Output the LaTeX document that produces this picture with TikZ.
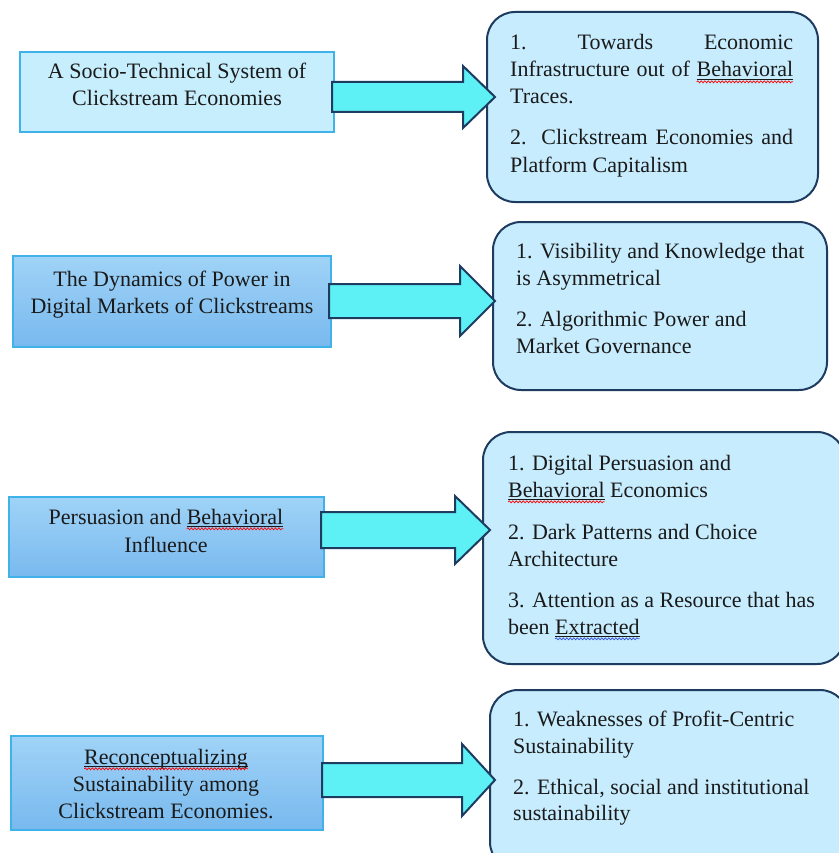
\documentclass[tikz,border=0pt]{standalone}
\usepackage{fontspec}
\setmainfont{Liberation Serif}
\usetikzlibrary{decorations.pathmorphing}
\newlength\spw
\newcommand\spellmark[2]{\settowidth\spw{#2}\rlap{#2}\tikz[baseline=0pt,x=1pt,y=1pt]{%
  \useasboundingbox (0,0) rectangle (\spw,0);
  \draw[txt, line width=0.6pt] (0,-2.2) -- (\spw,-2.2);
  \draw[#1, line width=0.7pt, decorate, decoration={snake, amplitude=1pt, segment length=3.5pt}] (0,-4.8) -- (\spw,-4.8);}}
\definecolor{lboxfill}{HTML}{C6EEFC}
\definecolor{lboxdraw}{HTML}{3FB3E9}
\definecolor{gtop}{HTML}{A0D3F7}
\definecolor{gbot}{HTML}{78B9EE}
\definecolor{arrfill}{HTML}{5DF1F6}
\definecolor{navy}{HTML}{1E3C60}
\definecolor{rboxfill}{HTML}{C7ECFD}
\definecolor{txt}{HTML}{1A1A1A}
\definecolor{spellblue}{HTML}{3050E0}
\newcommand\blockarrow[6]{%
  \draw[barrow] (#1,#4-#5) -- (#2,#4-#5) -- (#2,#4-#6) -- (#3,#4) -- (#2,#4+#6) -- (#2,#4+#5) -- (#1,#4+#5) -- cycle;}
\begin{document}
\begin{tikzpicture}[x=1pt,y=-1pt,
  lbox/.style={rectangle, inner sep=0pt, outer sep=0pt, line width=1.1pt, draw=lboxdraw},
  lboxplain/.style={lbox, fill=lboxfill},
  lboxgrad/.style={lbox, top color=gtop, bottom color=gbot},
  rbox/.style={rectangle, rounded corners=28pt, inner sep=0pt, outer sep=0pt, line width=2pt, draw=navy, fill=rboxfill},
  barrow/.style={line width=2pt, draw=navy, fill=arrfill, line join=miter},
  ltext/.style={inner sep=0pt, anchor=base, text=txt, font=\fontsize{22}{27}\selectfont},
  rtext/.style={inner sep=0pt, anchor=base west, text=txt, font=\fontsize{22}{27}\selectfont}]
\useasboundingbox[fill=white] (0,0) rectangle (838,853);

% left boxes
\node[lboxplain, minimum width=314pt, minimum height=80pt] (l1) at (177,92) {};
\node[lboxgrad, minimum width=318pt, minimum height=91pt] (l2) at (172,301.5) {};
\node[lboxgrad, minimum width=315pt, minimum height=80pt] (l3) at (166.5,537) {};
\node[lboxgrad, minimum width=312pt, minimum height=94pt] (l4) at (167,783) {};

\node[ltext] (l1a) at (177,79) {A Socio-Technical System of};
\node[ltext] (l1b) at (177,106) {Clickstream Economies};
\node[ltext] (l2a) at (172,286) {The Dynamics of Power in};
\node[ltext] (l2b) at (172,313) {Digital Markets of Clickstreams};
\node[ltext] (l3a) at (166,524) {Persuasion and \spellmark{red}{Behavioral}};
\node[ltext] (l3b) at (166,552) {Influence};
\node[ltext] (l4a) at (166,764) {\spellmark{red}{Reconceptualizing}};
\node[ltext] (l4b) at (166,791) {Sustainability among};
\node[ltext] (l4c) at (166,818) {Clickstream Economies.};

% right boxes
\node[rbox, minimum width=331pt, minimum height=190pt] (r1) at (652.5,107) {};
\node[rbox, minimum width=334pt, minimum height=168pt] (r2) at (660,306) {};
\node[rbox, minimum width=362pt, minimum height=232pt] (r3) at (664,548) {};
\node[rbox, minimum width=358pt, minimum height=180pt] (r4) at (669,780) {};

\node[rtext] (r1a) at (510,50) {\makebox[283pt][s]{1.\hfill Towards\hfill Economic}};
\node[rtext] (r1b) at (510,77) {\makebox[283pt][s]{Infrastructure out of \spellmark{red}{Behavioral}}};
\node[rtext] (r1c) at (510,104) {Traces.};
\node[rtext] (r1d) at (510,145) {\makebox[283pt][s]{2. Clickstream Economies and}};
\node[rtext] (r1e) at (510,172) {Platform Capitalism};

\node[rtext] (r2a) at (516,258) {1. Visibility and Knowledge that};
\node[rtext] (r2b) at (516,285) {is Asymmetrical};
\node[rtext] (r2c) at (516,326) {2. Algorithmic Power and};
\node[rtext] (r2d) at (516,353) {Market Governance};

\node[rtext] (r3a) at (508,470) {1. Digital Persuasion and};
\node[rtext] (r3b) at (508,497) {\spellmark{red}{Behavioral} Economics};
\node[rtext] (r3c) at (508,539) {2. Dark Patterns and Choice};
\node[rtext] (r3d) at (508,566) {Architecture};
\node[rtext] (r3e) at (508,607) {3. Attention as a Resource that has};
\node[rtext] (r3f) at (508,634) {been \spellmark{spellblue}{Extracted}};

\node[rtext] (r4a) at (513,726) {1. Weaknesses of Profit-Centric};
\node[rtext] (r4b) at (513,753) {Sustainability};
\node[rtext] (r4c) at (513,794) {2. Ethical, social and institutional};
\node[rtext] (r4d) at (513,820) {sustainability};

% block arrows
\blockarrow{332}{463}{495}{97}{15}{31}
\blockarrow{329}{460}{495}{301}{17}{35}
\blockarrow{321}{455}{490}{530}{18}{34}
\blockarrow{322}{462}{495}{780}{17}{36}
\end{tikzpicture}
\end{document}
